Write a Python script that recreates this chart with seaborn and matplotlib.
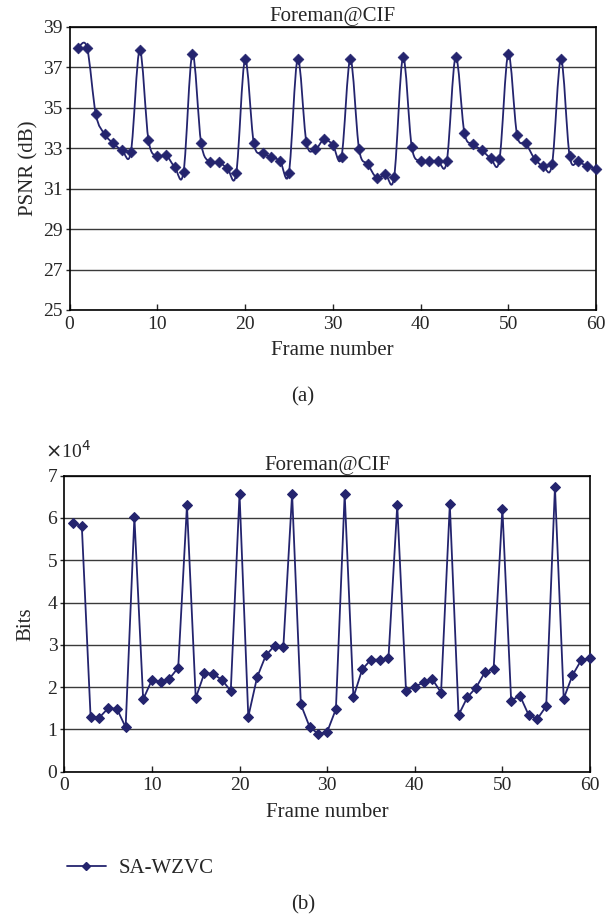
import numpy as np
import pandas as pd
import seaborn as sns
import matplotlib.pyplot as plt
from matplotlib.path import Path
from matplotlib.patches import PathPatch
from matplotlib.lines import Line2D

# data
frames = list(range(1, 61))
psnr_db = [37.97, 37.97, 34.67, 33.69, 33.23, 32.89, 32.82, 37.85, 33.40, 32.59,
           32.65, 32.06, 31.83, 37.66, 33.25, 32.31, 32.31, 32.00, 31.75, 37.38,
           33.25, 32.75, 32.56, 32.36, 31.77, 37.42, 33.28, 32.94, 33.43, 33.17,
           32.57, 37.40, 32.94, 32.20, 31.54, 31.70, 31.59, 37.49, 33.07, 32.36,
           32.36, 32.36, 32.36, 37.52, 33.76, 33.20, 32.89, 32.51, 32.44, 37.66,
           33.66, 33.23, 32.48, 32.11, 32.23, 37.40, 32.59, 32.34, 32.11, 31.98]
bits_1e4 = [5.87, 5.81, 1.30, 1.28, 1.50, 1.49, 1.05, 6.02, 1.71, 2.17,
            2.12, 2.20, 2.46, 6.30, 1.74, 2.34, 2.31, 2.17, 1.91, 6.57,
            1.30, 2.23, 2.75, 2.98, 2.95, 6.57, 1.59, 1.06, 0.89, 0.94,
            1.48, 6.57, 1.76, 2.42, 2.65, 2.65, 2.69, 6.30, 1.92, 2.01,
            2.11, 2.19, 1.87, 6.32, 1.34, 1.76, 1.99, 2.35, 2.43, 6.22,
            1.68, 1.80, 1.34, 1.25, 1.55, 6.73, 1.73, 2.28, 2.64, 2.69]
series_name = 'SA-WZVC'
title = 'Foreman@CIF'

df = pd.DataFrame({'frame': frames, 'psnr': psnr_db, 'bits': bits_1e4})

sns.set_style("ticks")
plt.rcParams['font.family'] = ['Liberation Serif', 'DejaVu Serif']

navy = '#24246e'
fs_tick = 14
fs_lab = 15


def smooth_path(x, y):
    # excel-like smoothed line drawn as bezier segments through the points
    x = np.asarray(x, float); y = np.asarray(y, float)
    n = len(x)
    verts = [(x[0], y[0])]
    codes = [Path.MOVETO]
    for i in range(n - 1):
        a = i - 1 if i > 0 else i
        b = i + 2 if i + 2 < n else i + 1
        c1 = (x[i] + (x[i+1] - x[a]) / 6, y[i] + (y[i+1] - y[a]) / 6)
        c2 = (x[i+1] - (x[b] - x[i]) / 6, y[i+1] - (y[b] - y[i]) / 6)
        verts += [c1, c2, (x[i+1], y[i+1])]
        codes += [Path.CURVE4] * 3
    return Path(verts, codes)


def style_axes(ax):
    for s in ax.spines.values():
        s.set_color('black')
        s.set_linewidth(1.2)
    ax.grid(axis='y', color='#3a3a3a', linewidth=1.0)
    ax.grid(axis='x', visible=False)
    ax.set_xlim(0, 60)
    ax.set_xticks(range(0, 61, 10))
    ax.tick_params(axis='x', direction='in', length=4, width=1, labelsize=fs_tick, pad=4)
    ax.tick_params(axis='y', direction='out', length=3, width=1, labelsize=fs_tick, pad=2)
    ax.set_title(title, fontsize=fs_lab, pad=4)


fig = plt.figure(figsize=(6.05, 9.19), dpi=100)
ax1 = fig.add_axes([69.5/605, 1-310/919, (596-69.5)/605, (310-26.7)/919])
ax2 = fig.add_axes([64.3/605, 1-771.7/919, (590-64.3)/605, (771.7-475.7)/919])

# (a) PSNR
ax1.add_patch(PathPatch(smooth_path(df['frame'], df['psnr']), fill=False,
                        edgecolor=navy, linewidth=1.3, zorder=3))
sns.scatterplot(data=df, x='frame', y='psnr', marker='D', s=30, color=navy,
                edgecolor=navy, linewidth=0.5, ax=ax1, zorder=4, clip_on=False)
ax1.set_ylim(25, 39)
ax1.set_yticks(range(25, 40, 2))
style_axes(ax1)
ax1.set_xlabel('Frame number', fontsize=fs_lab, labelpad=6)
ax1.set_ylabel('PSNR (dB)', fontsize=fs_lab, labelpad=3)

# (b) bits
sns.lineplot(data=df, x='frame', y='bits', marker='D', markersize=5.5, color=navy,
             markeredgecolor=navy, linewidth=1.3, ax=ax2, zorder=3, clip_on=False)
ax2.set_ylim(0, 7)
ax2.set_yticks(range(0, 8))
style_axes(ax2)
ax2.set_xlabel('Frame number', fontsize=fs_lab, labelpad=6)
ax2.set_ylabel('Bits', fontsize=fs_lab, labelpad=9)

fig.text(45/605, 1-451/919, r'$\times$10$^4$', fontsize=fs_tick, ha='left', va='center')

handle = Line2D([], [], color=navy, marker='D', markersize=4.5, linewidth=1.3)
fig.legend([handle], [series_name], loc='center left',
           bbox_to_anchor=(52/605, 1-868/919), frameon=False,
           fontsize=fs_lab, handlelength=1.9, handletextpad=0.6, borderpad=0.2)

fig.text(303/605, 1-397/919, '(a)', fontsize=fs_lab, ha='center', va='center')
fig.text(303/605, 1-905/919, '(b)', fontsize=fs_lab, ha='center', va='center')

fig.savefig('out.png', dpi=100)
